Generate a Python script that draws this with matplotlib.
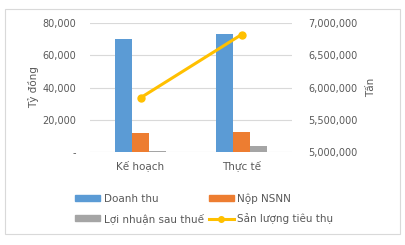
import matplotlib.pyplot as plt
import numpy as np
from matplotlib.patches import Rectangle
from matplotlib.lines import Line2D

categories = ["Kế hoạch", "Thực tế"]
doanh_thu = [70000, 73200]
nop_nsnn = [11800, 12400]
loi_nhuan = [800, 3700]
san_luong = [5840000, 6820000]

left_ticks = [0, 20000, 40000, 60000, 80000]
left_labels = ["-", "20,000", "40,000", "60,000", "80,000"]
right_ticks = [5000000, 5500000, 6000000, 6500000, 7000000]
right_labels = ["5,000,000", "5,500,000", "6,000,000", "6,500,000", "7,000,000"]

txt = "#595959"
plt.rcParams["font.family"] = ["DejaVu Sans"]

fig = plt.figure(figsize=(4.05, 2.45), dpi=100)
fig.patches.append(Rectangle((5 / 405, 1 - 234 / 245), 395 / 405, 225 / 245,
                             transform=fig.transFigure, fill=False,
                             edgecolor="#D9D9D9", linewidth=0.8))

ax = fig.add_axes([90 / 405, 1 - 152 / 245, 202 / 405, 129 / 245])
x = np.arange(len(categories))
w = 0.17
ax.bar(x - w, doanh_thu, w, color="#5B9BD5", zorder=2)
ax.bar(x, nop_nsnn, w, color="#ED7D31", zorder=2)
ax.bar(x + w, loi_nhuan, w, color="#A5A5A5", zorder=2)
ax.set_xlim(-0.5, 1.5)
ax.set_ylim(0, 80000)
ax.set_yticks(left_ticks)
ax.set_yticklabels(left_labels)
ax.set_xticks(x)
ax.set_xticklabels(categories)
ax.grid(axis="y", color="#D9D9D9", linewidth=0.8, zorder=0)
for s in ax.spines.values():
    s.set_visible(False)
ax.tick_params(length=0, labelsize=7, colors=txt, pad=10)
ax.tick_params(axis="x", pad=6, labelsize=7.5)
ax.set_ylabel("Tỷ đồng", fontsize=7.5, color=txt, labelpad=2)

ax2 = ax.twinx()
ax2.plot(x, san_luong, color="#FFC000", linewidth=2.2, marker="o",
         markersize=5, zorder=3)
ax2.set_ylim(5000000, 7000000)
ax2.set_yticks(right_ticks)
ax2.set_yticklabels(right_labels)
for s in ax2.spines.values():
    s.set_visible(False)
ax2.tick_params(length=0, labelsize=7, colors=txt, pad=12)
ax2.set_ylabel("Tấn", fontsize=7.5, color=txt, labelpad=6)

# legend filled column-wise, so order entries to read row by row
handles = [Rectangle((0, 0), 1, 1, color="#5B9BD5"),
           Rectangle((0, 0), 1, 1, color="#A5A5A5"),
           Rectangle((0, 0), 1, 1, color="#ED7D31"),
           Line2D([], [], color="#FFC000", linewidth=2.2, marker="o", markersize=4)]
labels = ["Doanh thu", "Lợi nhuận sau thuế", "Nộp NSNN", "Sản lượng tiêu thụ"]
leg = fig.legend(handles, labels, ncol=2, loc="upper left",
                 bbox_to_anchor=(66 / 405, 1 - 184 / 245), frameon=False,
                 fontsize=7.5, handlelength=2.4, handleheight=0.5,
                 handletextpad=0.3, columnspacing=0.5, labelspacing=0.9)
for t in leg.get_texts():
    t.set_color(txt)

fig.savefig("out.png", dpi=100)
